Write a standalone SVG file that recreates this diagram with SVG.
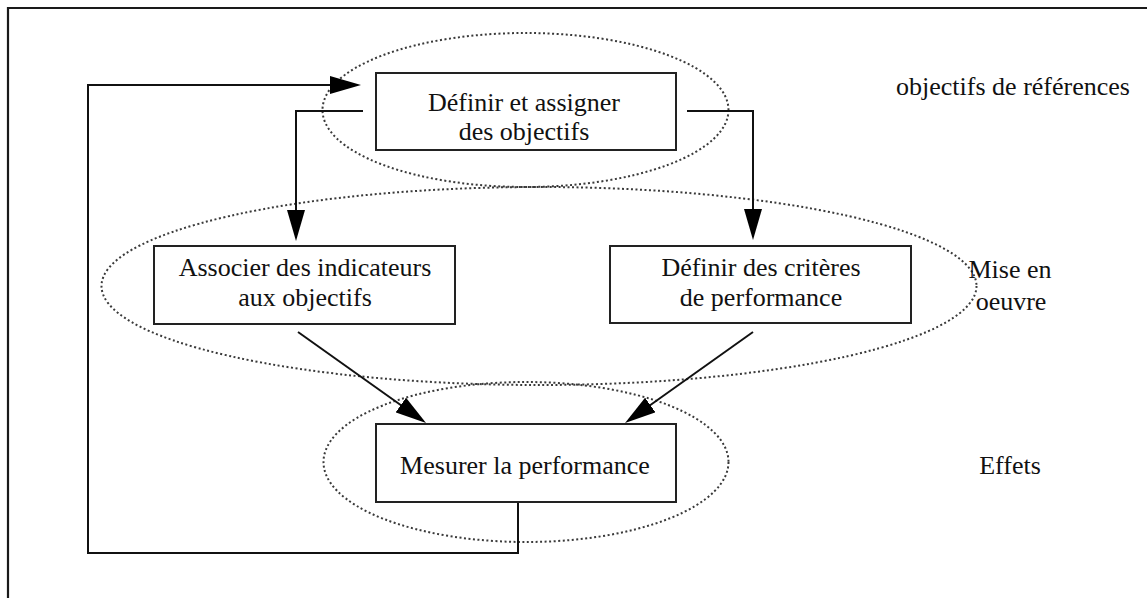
<svg xmlns="http://www.w3.org/2000/svg" width="1147" height="598" viewBox="0 0 1147 598">
  <style>
    .frame { fill: none; stroke: #1a1a1a; stroke-width: 2.2; }
    .box { fill: #ffffff; stroke: #222222; stroke-width: 2; }
    .zone { fill: none; stroke: #3a3a3a; stroke-width: 2; stroke-dasharray: 2 2.5; }
    .edge { fill: none; stroke: #111111; stroke-width: 2; }
    .lbl { font-family: "Liberation Serif", "DejaVu Serif", serif; font-size: 26px; fill: #111111; text-anchor: middle; }
  </style>
  <defs>
    <marker id="arrow" viewBox="0 0 31 18" refX="21" refY="9" markerWidth="31" markerHeight="18" markerUnits="userSpaceOnUse" orient="auto">
      <path d="M0,0 L31,9 L0,18 Z" fill="#000000"/>
    </marker>
  </defs>

  <rect width="1147" height="598" fill="#ffffff"/>

  <!-- frame: top and left edges -->
  <path class="frame" d="M8,598 L8,8 L1147,8"/>

  <!-- dotted zones -->
  <g id="zones">
    <ellipse class="zone" cx="525.5" cy="110" rx="203" ry="77"/>
    <ellipse class="zone" cx="539" cy="286" rx="437.5" ry="99"/>
    <ellipse class="zone" cx="526" cy="462" rx="202.5" ry="80"/>
  </g>

  <!-- connectors -->
  <g id="connectors">
    <path class="edge" d="M363,111 L296,111 L296,231" marker-end="url(#arrow)"/>
    <path class="edge" d="M687,111 L753,111 L753,230" marker-end="url(#arrow)"/>
    <path class="edge" d="M298,332 L417.9,417.2" marker-end="url(#arrow)"/>
    <path class="edge" d="M753,332 L633.2,417.2" marker-end="url(#arrow)"/>
    <path class="edge" d="M518,502 L518,553 L88,553 L88,85 L351,85" marker-end="url(#arrow)"/>
  </g>

  <!-- nodes -->
  <g id="node-definir-objectifs">
    <rect class="box" x="376" y="73" width="300" height="77"/>
    <text class="lbl" font-family="Liberation Serif, serif" x="524" y="111">Définir et assigner</text>
    <text class="lbl" font-family="Liberation Serif, serif" x="524" y="140">des objectifs</text>
  </g>

  <g id="node-associer-indicateurs">
    <rect class="box" x="154" y="246" width="301" height="78"/>
    <text class="lbl" font-family="Liberation Serif, serif" x="305" y="276">Associer des indicateurs</text>
    <text class="lbl" font-family="Liberation Serif, serif" x="305" y="306">aux objectifs</text>
  </g>

  <g id="node-criteres-performance">
    <rect class="box" x="610" y="246" width="301" height="77"/>
    <text class="lbl" font-family="Liberation Serif, serif" x="761" y="276">Définir des critères</text>
    <text class="lbl" font-family="Liberation Serif, serif" x="761" y="306">de performance</text>
  </g>

  <g id="node-mesurer">
    <rect class="box" x="376" y="424" width="300" height="78"/>
    <text class="lbl" font-family="Liberation Serif, serif" x="525" y="474">Mesurer la performance</text>
  </g>

  <!-- level captions -->
  <g id="captions">
    <text class="lbl" font-family="Liberation Serif, serif" x="1013" y="95">objectifs de références</text>
    <text class="lbl" font-family="Liberation Serif, serif" x="1010" y="278">Mise en</text>
    <text class="lbl" font-family="Liberation Serif, serif" x="1011" y="310">oeuvre</text>
    <text class="lbl" font-family="Liberation Serif, serif" x="1010" y="474">Effets</text>
  </g>
</svg>
